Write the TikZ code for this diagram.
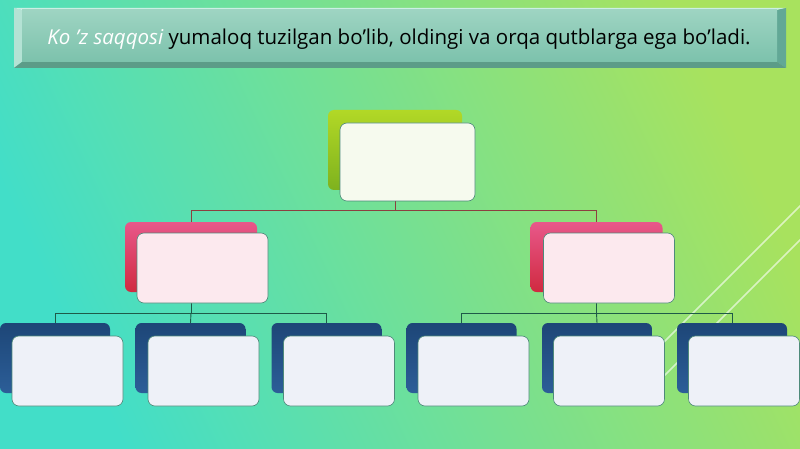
\documentclass[tikz,border=0pt]{standalone}
\usepackage{fontspec}
\setmainfont{Open Sans}
\usetikzlibrary{calc}
\definecolor{bgA}{HTML}{42DEC8}
\definecolor{bgB}{HTML}{70E0A6}
\definecolor{bgC}{HTML}{A8E25E}
\definecolor{faceT}{HTML}{9ED4C2}
\definecolor{faceB}{HTML}{7CC2AC}
\definecolor{bevL}{HTML}{B4E2D4}
\definecolor{bevT}{HTML}{CBEFE4}
\definecolor{bevR}{HTML}{62A896}
\definecolor{bevB}{HTML}{5C9C88}
\definecolor{blueT}{HTML}{1D4677}
\definecolor{blueB}{HTML}{2C5E98}
\definecolor{redT}{HTML}{E8588A}
\definecolor{redB}{HTML}{D02A40}
\definecolor{grnT}{HTML}{B2D826}
\definecolor{grnB}{HTML}{7EB21E}
\definecolor{lineR}{HTML}{8C4040}
\definecolor{lineG}{HTML}{1E5A48}
\definecolor{edge}{HTML}{4E8A7A}
\definecolor{frB}{HTML}{EEF1F8}
\definecolor{frR}{HTML}{FCE9EE}
\definecolor{frG}{HTML}{F6FAEE}
\tikzset{
  backbox/.style={rounded corners=6pt, minimum width=#1, inner sep=0pt, outer sep=0pt, minimum height=70pt},
  bluebk/.style={backbox=110pt, top color=blueT, bottom color=blueB},
  redbk/.style={backbox=132pt, top color=redT, bottom color=redB},
  grnbk/.style={backbox=134pt, minimum height=80pt, top color=grnT, bottom color=grnB},
  frontbox/.style={rounded corners=7pt, draw=edge, line width=0.6pt, inner sep=0pt, outer sep=0pt, minimum height=70pt},
  bluefr/.style={frontbox, minimum width=111pt, fill=frB},
  redfr/.style={frontbox, minimum width=131pt, fill=frR},
  grnfr/.style={frontbox, minimum width=135pt, minimum height=78pt, fill=frG},
  connR/.style={draw=lineR, line width=0.9pt},
  connG/.style={draw=lineG, line width=0.9pt},
  deco/.style={draw=white, line width=1.6pt, opacity=0.6}
}
\begin{document}
\begin{tikzpicture}[x=1pt,y=-1pt]
\useasboundingbox (0,0) rectangle (800,449);
\shade[shading=axis, top color=bgC, middle color=bgB, bottom color=bgA, shading angle=-65] (0,0) rectangle (800,449);
% decorative lines
\draw[deco] (820,186) -- (640,366);
\draw[deco] (820,220) -- (660,380);
% banner
\fill[bevL] (14,8) -- (22,10) -- (22,62) -- (14,68) -- cycle;
\fill[bevT] (14,8) -- (786,8) -- (777,10) -- (22,10) -- cycle;
\fill[bevR] (786,8) -- (786,68) -- (777,62) -- (777,10) -- cycle;
\fill[bevB] (14,68) -- (786,68) -- (777,62) -- (22,62) -- cycle;
\shade[top color=faceT, bottom color=faceB] (22,10) rectangle (777,62);
\node[font=\fontsize{20.5}{24}\selectfont, anchor=base] (title) at (399,45)
  {{\color{white}\itshape Ko 'z saqqosi} yumaloq tuzilgan bo'lib, oldingi va orqa qutblarga ega bo'ladi.};
% back boxes
\node[grnbk] (g) at (395,150) {};
\node[redbk] (r1) at (191,257) {};
\node[redbk] (r2) at (596.5,257) {};
\node[bluebk] (b1) at (55,358) {};
\node[bluebk] (b2) at (190.5,358) {};
\node[bluebk] (b3) at (326.5,358) {};
\node[bluebk] (b4) at (461.5,358) {};
\node[bluebk] (b5) at (597,358) {};
\node[bluebk] (b6) at (732,358) {};
% connectors
\coordinate (j0) at ($(g.south)+(0,20)$);
\draw[connR] (g.south) -- (j0) -| (r1.north);
\draw[connR] (j0) -| (r2.north);
\coordinate (j1) at ($(r1.south)+(0,21)$);
\coordinate (j2) at ($(r2.south)+(0,21)$);
\draw[connG] (r1.south) -- (j1) -| (b1.north);
\draw[connG] (j1) -| (b3.north);
\draw[connG] (j1) -- (b2.north);
\draw[connG] (r2.south) -- (j2) -| (b4.north);
\draw[connG] (j2) -| (b6.north);
\draw[connG] (j2) -- (b5.north);
% front boxes
\node[grnfr] (gf) at (407.5,162) {};
\node[redfr] (r1f) at (202.5,268) {};
\node[redfr] (r2f) at (609,268) {};
\node[bluefr] (b1f) at (67.5,371) {};
\node[bluefr] (b2f) at (203.5,371) {};
\node[bluefr] (b3f) at (339,371) {};
\node[bluefr] (b4f) at (473.5,371) {};
\node[bluefr] (b5f) at (609,371) {};
\node[bluefr] (b6f) at (744,371) {};
\end{tikzpicture}
\end{document}
